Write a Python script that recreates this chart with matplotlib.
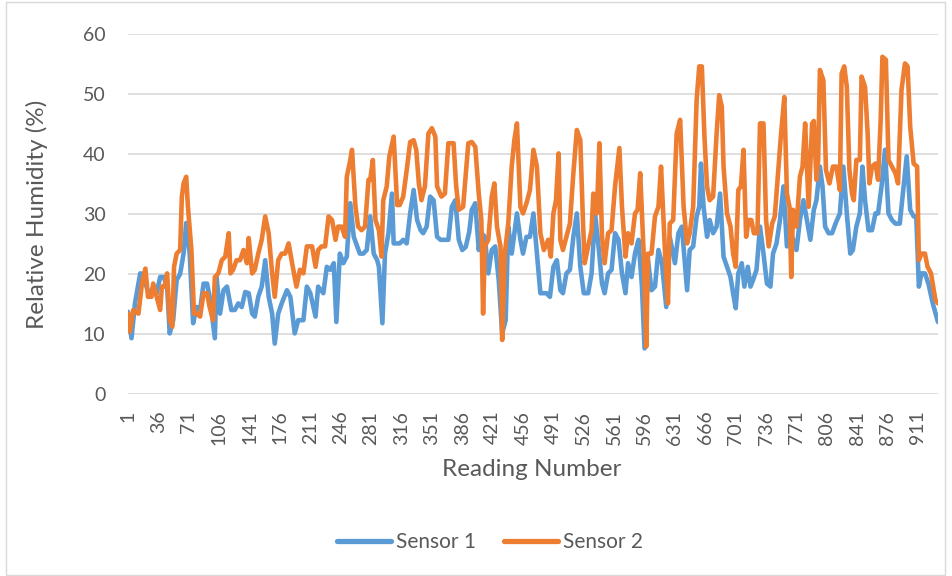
import matplotlib
matplotlib.use("Agg")
import matplotlib.pyplot as plt
from matplotlib.patches import Rectangle

# ---- data: (reading number, relative humidity %) ----
n_readings = 934
tick_labels = [str(v) for v in range(1, 912, 35)]
series_names = ["Sensor 1", "Sensor 2"]

sensor1 = [
    (1, 13.7), (5, 9.3), (9, 15.1), (15, 20.1), (19, 20.0), (22, 18.0), (26, 16.2), (30, 17.9),
    (34, 16.8), (38, 19.5), (42, 19.5), (46, 18.0), (49, 10.1), (53, 12.3), (57, 19.0), (61, 20.0),
    (65, 23.4), (68, 28.5), (72, 23.4), (76, 11.8), (80, 14.5), (84, 14.0), (88, 18.4), (92, 18.4),
    (95, 16.2), (101, 9.3), (103, 19.5), (107, 13.4), (111, 17.3), (115, 17.9), (120, 14.0),
    (124, 14.0), (128, 15.1), (132, 14.5), (136, 17.0), (140, 16.8), (144, 13.4), (147, 12.9),
    (151, 16.2), (155, 17.9), (159, 22.3), (163, 16.2), (167, 13.4), (170, 8.4), (174, 13.4),
    (178, 15.1), (184, 17.3), (188, 16.2), (193, 10.1), (197, 12.3), (203, 12.3), (207, 17.9),
    (211, 16.8), (217, 12.9), (220, 17.9), (226, 16.8), (230, 21.2), (234, 20.7), (238, 21.8),
    (241, 12.0), (245, 23.4), (249, 21.8), (253, 22.9),
    (257, 31.8), (261, 26.2), (265, 24.6), (268, 23.4), (272, 23.4), (276, 24.0), (280, 29.6),
    (284, 23.4), (288, 22.3), (290, 21.2), (294, 11.8), (297, 23.4), (301, 26.8), (305, 33.4),
    (307, 25.1), (311, 25.1), (314, 25.1), (318, 25.7), (322, 25.1), (326, 30.1), (330, 34.0),
    (334, 29.0), (338, 27.3), (341, 26.8), (345, 27.9), (349, 32.9), (353, 32.3), (357, 26.2),
    (361, 25.7), (364, 25.7), (370, 25.7), (374, 31.2), (378, 32.3), (382, 25.7), (386, 24.0),
    (390, 24.5), (394, 27.0), (397, 30.7), (401, 31.8), (405, 24.0), (408, 26.8), (412, 26.2),
    (416, 20.1), (420, 24.0), (424, 24.6), (428, 19.0), (432, 10.1), (436, 12.3), (439, 27.9),
    (443, 23.4), (449, 30.1), (453, 25.7), (456, 23.4), (460, 26.2), (464, 26.2), (468, 30.1),
    (472, 23.4), (476, 16.8), (480, 16.8), (483, 16.8), (487, 16.2), (491, 21.2), (495, 22.3),
    (499, 17.3), (502, 16.8), (506, 20.1), (510, 20.7), (514, 26.2), (518, 30.1), (522, 21.2),
    (526, 16.8),
    (531, 16.8), (535, 20.1), (539, 30.1), (543, 24.6), (547, 18.4), (550, 16.8), (554, 20.1),
    (558, 20.7), (562, 26.8), (566, 25.7), (570, 20.1), (574, 16.8), (577, 21.8), (581, 19.5),
    (585, 23.4), (589, 25.7), (593, 17.9), (596, 7.6), (600, 22.3), (604, 17.3), (608, 17.9),
    (612, 24.0), (616, 21.8), (621, 14.5), (625, 26.2), (631, 21.8), (635, 26.8), (639, 27.9),
    (645, 17.3), (648, 24.0), (652, 24.6), (656, 29.6),
    (659, 31.2), (661, 38.4), (664, 31.2), (668, 26.2), (671, 29.0), (675, 26.8), (679, 27.9),
    (683, 33.4), (687, 22.9), (691, 21.2), (695, 19.5), (698, 16.8), (701, 14.3), (704, 20.1),
    (708, 21.8), (711, 17.9), (715, 21.2), (718, 17.9), (721, 19.0), (725, 20.7), (729, 27.9),
    (733, 23.4), (737, 18.4), (741, 17.9), (744, 23.4), (748, 25.1), (752, 29.0), (756, 34.6),
    (760, 24.6), (766, 26.2), (771, 24.0), (775, 29.0), (779, 32.3), (783, 29.0),
    (787, 25.7), (791, 30.7), (794, 32.3), (798, 37.9), (801, 34.6), (804, 27.9), (808, 26.8),
    (812, 26.8), (816, 28.4), (821, 30.1), (825, 37.9), (829, 30.1), (833, 23.4), (836, 24.0),
    (840, 27.9), (844, 30.1), (847, 37.9), (850, 32.3), (854, 27.3), (858, 27.3), (862, 30.1),
    (865, 30.1), (869, 34.6), (873, 40.7), (877, 30.1), (881, 29.0), (885, 28.4), (890, 28.4),
    (894, 34.0), (898, 39.6), (902, 30.7), (906, 29.6), (909, 29.6), (912, 17.9), (915, 20.1),
    (919, 20.1), (923, 18.4), (928, 15.1), (934, 12.0),
]

sensor2 = [
    (1, 13.4), (3, 10.4), (7, 14.0), (13, 13.4), (17, 18.4), (21, 20.9), (24, 16.2), (28, 16.2),
    (30, 18.4), (34, 16.2), (38, 14.0), (40, 17.9), (43, 17.9), (46, 20.1), (49, 12.3), (52, 11.2),
    (54, 21.2), (57, 23.4), (61, 24.0), (63, 32.9), (65, 35.1), (68, 36.2), (70, 31.2), (74, 24.0),
    (77, 13.4), (80, 13.4), (84, 12.9), (88, 16.8), (92, 16.8), (95, 14.5), (99, 12.3), (101, 19.5),
    (105, 20.1), (109, 22.3), (113, 22.9), (117, 26.8), (119, 20.1), (122, 20.7),
    (126, 22.3), (130, 22.3), (134, 24.0), (138, 21.8), (140, 26.0), (144, 20.1), (147, 20.7),
    (151, 23.4), (155, 25.7), (159, 29.6), (163, 26.8), (167, 20.1), (170, 16.2), (174, 22.3),
    (178, 23.4), (182, 23.4), (186, 25.1), (190, 21.8), (195, 17.9), (199, 20.7), (203, 20.1),
    (207, 24.6), (213, 24.6), (217, 21.2), (220, 24.0), (224, 24.6), (228, 24.6), (232, 29.6),
    (236, 29.0), (240, 25.7), (243, 27.9), (247, 27.9), (251, 26.2), (253, 36.2), (257, 39.0),
    (259, 40.7),
    (263, 31.2), (266, 27.9), (270, 27.3), (274, 27.9), (278, 35.7), (280, 35.7), (283, 39.0),
    (286, 29.0), (290, 27.3), (293, 22.9), (295, 32.3), (299, 34.6), (302, 39.6), (307, 42.9),
    (309, 37.3), (311, 31.5), (314, 31.5), (318, 32.9), (322, 37.3), (326, 42.0), (330, 42.3),
    (333, 40.7), (336, 35.1), (339, 32.3), (343, 34.6), (347, 43.4), (351, 44.3), (355, 42.9),
    (357, 34.6), (362, 32.9), (366, 33.4), (370, 41.8), (376, 41.8), (379, 34.6), (382, 30.7),
    (387, 31.2), (393, 41.8),
    (397, 42.0), (401, 41.2), (405, 33.4), (408, 29.0), (410, 13.4), (412, 24.6), (416, 25.7),
    (420, 32.9), (423, 35.1), (426, 27.9), (430, 24.6), (432, 9.0), (435, 23.4), (439, 28.4),
    (443, 37.9), (446, 42.3), (449, 45.1), (453, 31.2), (456, 30.1), (460, 31.8), (464, 34.0),
    (468, 40.7), (472, 37.9), (476, 26.8), (480, 24.0), (485, 25.7), (488, 22.9), (491, 30.1),
    (494, 32.3), (497, 40.1), (499, 25.7), (502, 24.0), (506, 26.2), (510, 28.4), (514, 36.8),
    (518, 44.0), (522, 42.3),
    (525, 29.0), (527, 21.8), (531, 24.6), (535, 27.3), (537, 33.4), (541, 30.1), (544, 41.8),
    (547, 26.2), (550, 21.8), (554, 26.8), (558, 27.3), (562, 34.6), (567, 41.0), (570, 31.2),
    (574, 22.9), (577, 26.8), (581, 25.1), (585, 30.1), (588, 30.7), (591, 36.8), (595, 23.4),
    (598, 7.9), (600, 23.4), (604, 23.4), (608, 29.6), (612, 31.2), (615, 37.9), (620, 22.3),
    (623, 15.1), (625, 28.4), (629, 29.0), (633, 43.4), (637, 45.7), (641, 31.2), (645, 25.1),
    (648, 26.8), (652, 31.2), (656, 49.0), (659, 54.6),
    (662, 54.6), (665, 42.9), (668, 34.6), (671, 32.3), (675, 32.9), (679, 43.4), (682, 49.8),
    (685, 47.9), (687, 37.9), (691, 30.1), (695, 27.9), (698, 23.4), (701, 21.2), (704, 34.0),
    (707, 34.6), (710, 40.7), (713, 26.2), (716, 29.0), (719, 29.0), (722, 26.8), (726, 26.8),
    (729, 45.1), (733, 45.1), (736, 29.0), (739, 24.6), (743, 28.4), (746, 29.6), (750, 37.3),
    (753, 42.9), (757, 49.5), (760, 33.4), (763, 31.2), (765, 19.5), (767, 30.7), (771, 27.9),
    (775, 36.2), (778, 37.9), (781, 45.1), (785, 31.2), (789, 45.1),
    (791, 45.5), (794, 35.7), (796, 39.0), (798, 54.0), (802, 52.3), (805, 37.3), (809, 35.1),
    (813, 37.9), (817, 37.9), (821, 34.0), (823, 53.4), (826, 54.6), (829, 51.2), (832, 37.3),
    (835, 33.4), (837, 32.3), (840, 39.0), (844, 39.0), (846, 52.9), (850, 51.2), (853, 43.4),
    (855, 35.1), (858, 37.9), (862, 38.4), (865, 35.7), (868, 45.7), (870, 56.2), (874, 55.7),
    (877, 39.0), (881, 37.9), (885, 36.8), (888, 35.1), (892, 50.7), (896, 55.1), (899, 54.6),
    (902, 44.6), (906, 38.4), (910, 37.9), (912, 22.3), (915, 23.4), (919, 23.4), (922, 21.2),
    (926, 20.1), (931, 15.7), (934, 15.1),
]

series_colors = ["#5B9BD5", "#ED7D31"]

# ---- figure ----
plt.rcParams['font.family'] = ['Lato', 'DejaVu Sans']
text_color = "#595959"
grid_color = "#D9D9D9"

fig = plt.figure(figsize=(9.52, 5.76), dpi=100)
ax_left, ax_right, ax_top, ax_bottom = 127.6, 938.4, 34, 394
ax = fig.add_axes([ax_left / 952, 1 - ax_bottom / 576, (ax_right - ax_left) / 952,
                   (ax_bottom - ax_top) / 576])

for data, name, col, z in zip([sensor1, sensor2], series_names, series_colors, [3, 4]):
    xs = [p[0] for p in data]
    ys = [p[1] for p in data]
    ax.plot(xs, ys, color=col, lw=3.3, solid_joinstyle='round',
            solid_capstyle='round', label=name, zorder=z)

ax.set_xlim(0.5, n_readings + 0.5)
ax.set_ylim(0, 60)
ax.set_yticks(range(0, 61, 10))
ax.set_xticks(range(1, 912, 35))
ax.set_xticklabels(tick_labels, rotation=90, va='top', ha='center')

ax.grid(axis='y', color=grid_color, lw=1.2)
ax.set_axisbelow(True)
for s in ax.spines.values():
    s.set_visible(False)
ax.tick_params(axis='both', length=0, colors=text_color, labelsize=14)
ax.tick_params(axis='y', pad=16)
ax.tick_params(axis='x', pad=12)

ax.set_xlabel("Reading Number", color=text_color, fontsize=17.5, va='center')
ax.xaxis.set_label_coords((532 - ax_left) / (ax_right - ax_left),
                          (ax_bottom - 470) / (ax_bottom - ax_top))
ax.set_ylabel("Relative Humidity (%)", color=text_color, fontsize=17.5, va='center')
ax.yaxis.set_label_coords((37 - ax_left) / (ax_right - ax_left), 0.5)

leg = fig.legend(loc='center', bbox_to_anchor=(490 / 952, 1 - 542 / 576), ncol=2,
                 frameon=False, fontsize=15, handlelength=2.6, columnspacing=1.3,
                 handletextpad=0.25)
for t in leg.get_texts():
    t.set_color(text_color)
for h in leg.get_lines():
    h.set_linewidth(3.8)

fig.patches.append(Rectangle((6 / 952, 0.002), 939 / 952, 0.995, transform=fig.transFigure,
                             fill=False, edgecolor=grid_color, lw=1))

fig.savefig("out.png", dpi=100, facecolor='white')
